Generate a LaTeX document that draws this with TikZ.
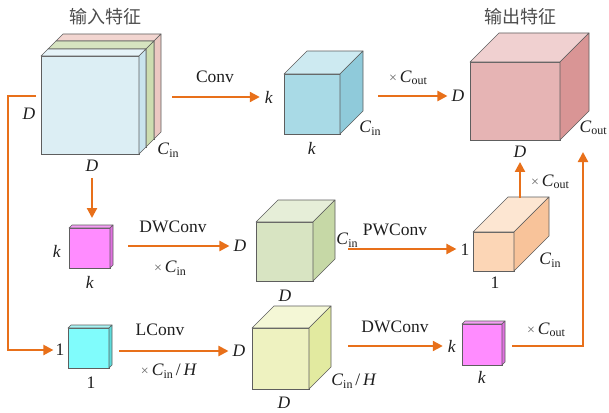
\documentclass[tikz,border=0pt]{standalone}
\usepackage{fontspec}
\setmainfont{Liberation Serif}
\newfontfamily\cjk{Noto Sans CJK SC}
\usetikzlibrary{arrows.meta}
\definecolor{org}{HTML}{E8701A}
\definecolor{edgec}{HTML}{5E5E5E}
\definecolor{txt}{HTML}{1E1E1E}
\definecolor{inA}{HTML}{DCEEF4}\definecolor{inAt}{HTML}{E6F3F8}\definecolor{inAs}{HTML}{C9E4EE}
\definecolor{inB}{HTML}{D6E4C0}\definecolor{inBt}{HTML}{D6E4C0}\definecolor{inBs}{HTML}{CCDDB0}
\definecolor{inC}{HTML}{F2D5D0}\definecolor{inCt}{HTML}{F2D5D0}\definecolor{inCs}{HTML}{EBC8C2}
\definecolor{kF}{HTML}{A9DAE6}\definecolor{kT}{HTML}{CDEAF1}\definecolor{kS}{HTML}{8FCADA}
\definecolor{oF}{HTML}{E6B4B4}\definecolor{oT}{HTML}{F0D0D0}\definecolor{oS}{HTML}{D99595}
\definecolor{mF}{HTML}{FF8CFF}\definecolor{mT}{HTML}{F59EF5}\definecolor{mS}{HTML}{E070E0}
\definecolor{gF}{HTML}{D8E4C2}\definecolor{gT}{HTML}{E6EED8}\definecolor{gS}{HTML}{C6D8A6}
\definecolor{pF}{HTML}{FCD6B6}\definecolor{pT}{HTML}{FDE6D2}\definecolor{pS}{HTML}{F8C39A}
\definecolor{cF}{HTML}{80FCFC}\definecolor{cT}{HTML}{A8F4F4}\definecolor{cS}{HTML}{5CDCDC}
\definecolor{yF}{HTML}{EEF2C0}\definecolor{yT}{HTML}{F4F7D6}\definecolor{yS}{HTML}{E2EAA0}
\newcommand{\Sub}[1]{\raisebox{-2.5pt}{\fontsize{12}{12}\selectfont #1}}
\newcommand{\Cin}{\textit{C}\Sub{in}}
\newcommand{\Cout}{\textit{C}\Sub{out}}
\newcommand{\Tm}{{\color{black!60}\fontsize{14}{14}\selectfont ×}\,}
% #1 name, #2 x, #3 y, #4 w, #5 h, #6 depth, #7 front, #8 top, #9 side
\newcommand{\cubo}[9]{%
  \node[face,fill=#7,minimum width=#4pt,minimum height=#5pt,anchor=north west] (#1) at (#2,#3) {};
  \draw[edge,fill=#8] (#1.north west) -- ++(#6,-#6) -- ++(#4,0) -- ++(-#6,#6) -- cycle;
  \draw[edge,fill=#9] (#1.north east) -- ++(#6,-#6) -- ++(0,#5) -- ++(-#6,#6) -- cycle;
}
\begin{document}
\begin{tikzpicture}[x=1pt,y=-1pt,
  face/.style={draw=edgec,line width=0.6pt,inner sep=0pt,outer sep=0pt,rectangle},
  edge/.style={draw=edgec,line width=0.6pt,line join=round},
  lab/.style={inner sep=0pt,font=\fontsize{17.5}{17.5}\selectfont,text=txt},
  ttl/.style={inner sep=0pt,font=\cjk\fontsize{18}{18}\selectfont,text=black!70},
  arr/.style={draw=org,line width=2.2pt,-{Triangle[length=10pt,width=10pt]}},
  ln/.style={draw=org,line width=2.2pt}]
\useasboundingbox (0,0) rectangle (609,412);

% ---------- input feature
\node[ttl] (t1) at (105,17) {输入特征};
\cubo{inp3}{56}{41}{98}{98}{7}{inC}{inCt}{inCs}
\cubo{inp2}{48}{49}{98}{98}{8}{inB}{inBt}{inBs}
\cubo{inp}{41}{56}{98}{98}{7}{inA}{inAt}{inAs}
\node[lab] (inDl) at (29,114) {\textit{D}};
\node[lab] (inDb) at (92,166) {\textit{D}};
\node[lab] (inCl) at (168,150) {\Cin};

% ---------- standard conv kernel
\cubo{ker}{284}{74}{56}{60}{23}{kF}{kT}{kS}
\node[lab] (kl) at (269,97) {\textit{k}};
\node[lab] (kb) at (312,148) {\textit{k}};
\node[lab] (kc) at (370,128) {\Cin};
\node[lab] (convl) at (215,77) {Conv};
\node[lab] (cout1) at (408,78) {\Tm\Cout};

% ---------- output feature
\node[ttl] (t2) at (520,17) {输出特征};
\cubo{outp}{470}{62}{90}{78}{29}{oF}{oT}{oS}
\node[lab] (oD) at (458,96) {\textit{D}};
\node[lab] (oDb) at (520,152) {\textit{D}};
\node[lab,anchor=east] (oC) at (607,128) {\Cout};

% ---------- middle row
\cubo{m1}{69}{228}{41}{40}{3}{mF}{mT}{mS}
\node[lab] (m1l) at (57,251) {\textit{k}};
\node[lab] (m1b) at (90,282) {\textit{k}};
\node[lab] (dw1) at (173,227) {DWConv};
\node[lab] (dw1b) at (170,268) {\Tm\Cin};
\node[lab] (gD) at (240,246) {\textit{D}};
\cubo{gr}{256}{222}{57}{59}{22}{gF}{gT}{gS}
\node[lab] (gDb) at (285,296) {\textit{D}};
\node[lab] (gC) at (347,240) {\Cin};
\node[lab] (pwl) at (395,230) {PWConv};
\node[lab] (p1) at (465,250) {1};
\cubo{pe}{473}{232}{41}{39}{35}{pF}{pT}{pS}
\node[lab] (pC) at (550,260) {\Cin};
\node[lab] (pb) at (495,283) {1};
\node[lab] (cout2) at (550,182) {\Tm\Cout};

% ---------- bottom row
\node[lab] (c1l) at (60,350) {1};
\cubo{cy}{68}{328}{41}{40}{3}{cF}{cT}{cS}
\node[lab] (cyb) at (91,383) {1};
\node[lab] (lcl) at (160,330) {LConv};
\node[lab] (lcb) at (169,371) {\Tm\Cin\,/\,\textit{H}};
\node[lab] (yD) at (239,351) {\textit{D}};
\cubo{ye}{252}{328}{57}{61}{22}{yF}{yT}{yS}
\node[lab] (yDb) at (284,403) {\textit{D}};
\node[lab] (yC) at (354,381) {\Cin\,/\,\textit{H}};
\node[lab] (dw2) at (395,327) {DWConv};
\node[lab] (m2l) at (452,346) {\textit{k}};
\cubo{m2}{462}{324}{40}{41}{3}{mF}{mT}{mS}
\node[lab] (m2b) at (482,377) {\textit{k}};
\node[lab] (cout3) at (546,330) {\Tm\Cout};

% ---------- connectors
\coordinate (s1) at (172,97);
\draw[arr,shorten >=5pt] (s1) -- (kl.west |- s1);
\coordinate (s2) at (378,96);
\draw[arr,shorten >=4pt] (s2) -- (oD.west |- s2);
\draw[arr,shorten <=6pt,shorten >=10pt] (inDb.south) -- (inDb.south |- m1.north);
\coordinate (s3) at (128,246);
\draw[arr,shorten >=4pt] (s3) -- (gD.west |- s3);
\coordinate (s4) at (348,249);
\draw[arr,shorten >=4pt] (s4) -- (p1.west |- s4);
\coordinate (s5) at (520,198);
\draw[arr,shorten >=4pt] (s5) -- (oDb.south);
\coordinate (s6) at (36,96);
\draw[arr,line join=miter,shorten >=2pt] (s6) -- (8,96) |- (c1l.west);
\coordinate (s7) at (119,351);
\draw[arr,shorten >=4pt] (s7) -- (yD.west |- s7);
\coordinate (s8) at (348,346);
\draw[arr,shorten >=5pt] (s8) -- (m2l.west |- s8);
\coordinate (s9) at (512,346);
\coordinate (e9) at (583,152);
\draw[arr,line join=miter] (s9) -| (e9);
\end{tikzpicture}
\end{document}
